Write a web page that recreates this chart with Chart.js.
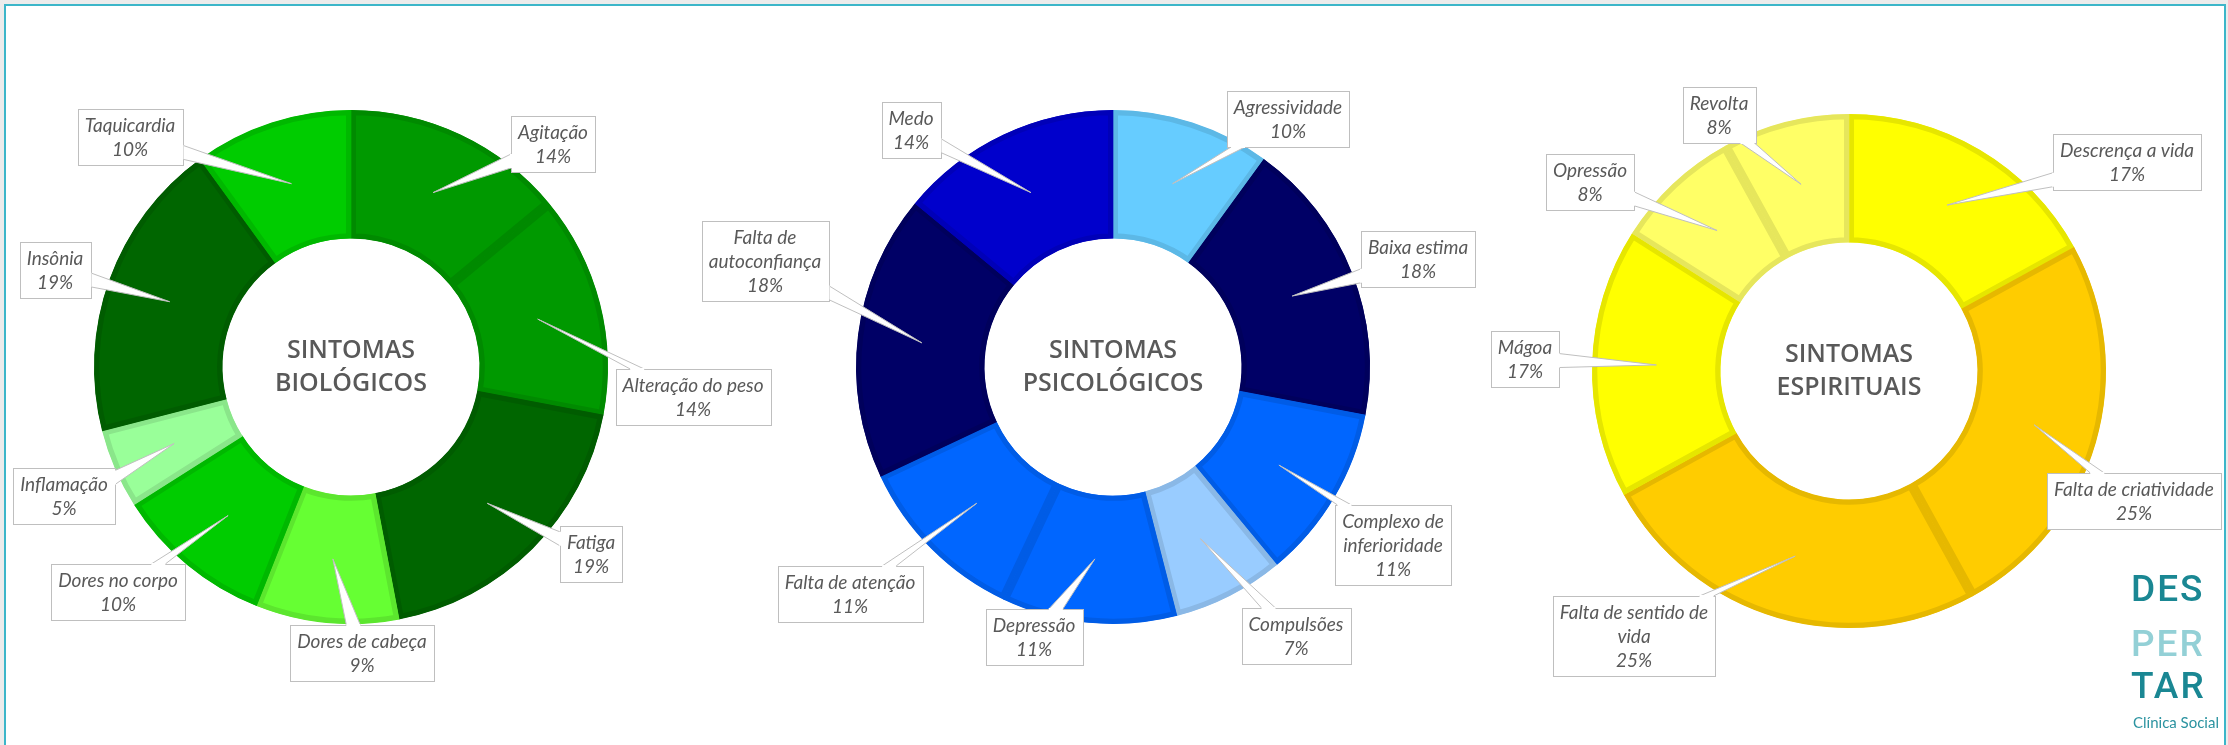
<!DOCTYPE html>
<html>
<head>
<meta charset="utf-8">
<script src="https://cdn.jsdelivr.net/npm/chart.js@4"></script>
<style>
  html, body { margin: 0; padding: 0; }
  body { width: 2228px; height: 745px; overflow: hidden; background: #ececec; position: relative; }
  #frame { position: absolute; left: 4px; top: 4px; width: 2218px; height: 760px; background: #fff;
           border-top: 2px solid #3cb6c9; border-left: 2px solid #3cb6c9; border-right: 2px solid #3cb6c9; }
  canvas { position: absolute; left: 0; top: 0; }
  .lg { position: absolute; left: 2131px; font-family: Roboto, sans-serif; font-weight: 500; font-size: 37px;
        line-height: 37px; letter-spacing: 2px; }
  .dark { color: #1a8793; }
  .light { color: #93d0d6; }
  .sub { position: absolute; left: 2133px; top: 713px; font-family: Lato, sans-serif; font-size: 15px;
         line-height: 18px; color: #2b93a0; }
</style>
</head>
<body>
<div id="frame"></div>
<canvas id="bio" width="2228" height="745"></canvas>
<canvas id="psi" width="2228" height="745"></canvas>
<canvas id="esp" width="2228" height="745"></canvas>
<div class="lg dark" style="top:570px">DES</div>
<div class="lg light" style="top:625px">PER</div>
<div class="lg dark" style="top:667px">TAR</div>
<div class="sub">Clínica Social</div>

<script>
const bioLabels = ["Agitação", "Alteração do peso", "Fatiga", "Dores de cabeça", "Dores no corpo", "Inflamação", "Insônia", "Taquicardia"];
const bioValues = [14, 14, 19, 9, 10, 5, 19, 10];

const psiLabels = ["Agressividade", "Baixa estima", "Complexo de inferioridade", "Compulsões", "Depressão", "Falta de atenção", "Falta de autoconfiança", "Medo"];
const psiValues = [10, 18, 11, 7, 11, 11, 18, 14];

const espLabels = ["Descrença a vida", "Falta de criatividade", "Falta de sentido de vida", "Mágoa", "Opressão", "Revolta"];
const espValues = [17, 25, 25, 17, 8, 8];

// cores das fatias
const bioColors = ["#009900", "#009900", "#006600", "#66FF33", "#00CC00", "#99FF99", "#006600", "#00CC00"];
const psiColors = ["#66CCFF", "#000066", "#0066FF", "#99CCFF", "#0066FF", "#0066FF", "#000066", "#0000CC"];
const espColors = ["#FFFF00", "#FFCC00", "#FFCC00", "#FFFF00", "#FFFF66", "#FFFF66"];

// posição das caixas de rótulo (relativa ao centro da rosca)
const bioBoxes = [
  { dx: 202, dy: -223 }, { dx: 342, dy: 30 }, { dx: 240, dy: 187 }, { dx: 11, dy: 286 },
  { dx: -233, dy: 225 }, { dx: -287, dy: 129 }, { dx: -296, dy: -97 }, { dx: -221, dy: -230 },
];
const psiBoxes = [
  { dx: 175, dy: -248 }, { dx: 305, dy: -108 }, { dx: 280, dy: 178, w: 110 }, { dx: 183, dy: 269 },
  { dx: -79, dy: 270 }, { dx: -263, dy: 227 }, { dx: -348, dy: -106, w: 125 }, { dx: -202, dy: -237 },
];
const espBoxes = [
  { dx: 278, dy: -209 }, { dx: 285, dy: 130 }, { dx: -215, dy: 265, w: 165 },
  { dx: -324, dy: -12 }, { dx: -259, dy: -189 }, { dx: -130, dy: -256 },
];

const W = 2228, H = 745;

const darker = (hex) => {
  const n = parseInt(hex.slice(1), 16);
  const f = (v) => Math.round(v * 0.9);
  return `rgb(${f(n >> 16)}, ${f((n >> 8) & 255)}, ${f(n & 255)})`;
};

const wrapText = (ctx, text, maxW) => {
  const words = text.split(" ");
  const lines = [];
  let cur = "";
  words.forEach((w) => {
    const test = cur ? cur + " " + w : w;
    if (cur && ctx.measureText(test).width > maxW) {
      lines.push(cur);
      cur = w;
    } else cur = test;
  });
  if (cur) lines.push(cur);
  return lines;
};

// rótulos estilo "balão" do Excel + título no centro
const calloutPlugin = {
  id: "callouts",
  afterDatasetsDraw(chart, args, opts) {
    const ctx = chart.ctx;
    const meta = chart.getDatasetMeta(0);
    const values = chart.data.datasets[0].data;
    const total = values.reduce((a, b) => a + b, 0);
    const cx = meta.data[0].x, cy = meta.data[0].y;

    ctx.save();
    ctx.fillStyle = "#595959";
    ctx.font = "600 25px 'Open Sans'";
    ctx.textAlign = "center";
    ctx.textBaseline = "middle";
    opts.title.forEach((t, i) => ctx.fillText(t, cx, cy + (i - (opts.title.length - 1) / 2) * 33));

    meta.data.forEach((arc, i) => {
      const pos = opts.boxes[i];
      const tip = arc.getCenterPoint();
      ctx.font = "italic 19px Lato";
      const lines = wrapText(ctx, chart.data.labels[i], pos.w || 1e9);
      lines.push(Math.round((values[i] / total) * 100) + "%");
      const tw = Math.max(...lines.map((l) => ctx.measureText(l).width));
      const bw = Math.round(tw + 14), bh = lines.length * 24 + 8;
      const mx = cx + pos.dx, my = cy + pos.dy;
      const bx = Math.round(mx - bw / 2) + 0.5, by = Math.round(my - bh / 2) + 0.5;

      // ponto de saída na borda da caixa
      const ux = tip.x - mx, uy = tip.y - my;
      const tX = ux !== 0 ? (bw / 2) / Math.abs(ux) : Infinity;
      const tY = uy !== 0 ? (bh / 2) / Math.abs(uy) : Infinity;
      const t = Math.min(tX, tY);
      const ex = mx + ux * t, ey = my + uy * t;
      let b1, b2;
      if (tX < tY) {
        const y0 = Math.max(by + 2, Math.min(by + bh - 16, ey - 7));
        b1 = [ex, y0]; b2 = [ex, y0 + 14];
      } else {
        const x0 = Math.max(bx + 2, Math.min(bx + bw - 16, ex - 7));
        b1 = [x0, ey]; b2 = [x0 + 14, ey];
      }

      ctx.lineWidth = 1;
      ctx.strokeStyle = "#bfbfbf";
      ctx.fillStyle = "#ffffff";
      ctx.beginPath();
      ctx.moveTo(b1[0], b1[1]);
      ctx.lineTo(tip.x, tip.y);
      ctx.lineTo(b2[0], b2[1]);
      ctx.closePath();
      ctx.fill();
      ctx.beginPath();
      ctx.moveTo(b1[0], b1[1]);
      ctx.lineTo(tip.x, tip.y);
      ctx.lineTo(b2[0], b2[1]);
      ctx.stroke();

      ctx.fillRect(bx, by, bw, bh);
      ctx.strokeRect(bx, by, bw, bh);
      // abre a borda onde entra o balão
      ctx.strokeStyle = "#ffffff";
      ctx.lineWidth = 2;
      ctx.beginPath();
      ctx.moveTo(b1[0], b1[1]);
      ctx.lineTo(b2[0], b2[1]);
      ctx.stroke();

      ctx.fillStyle = "#595959";
      lines.forEach((l, k) => ctx.fillText(l, mx, my + (k - (lines.length - 1) / 2) * 24 + 1));
    });
    ctx.restore();
  },
};

const makeDonut = (id, labels, values, colors, boxes, title, cx, cy) => {
  return new Chart(document.getElementById(id), {
    type: "doughnut",
    data: {
      labels: labels,
      datasets: [{
        data: values,
        backgroundColor: colors,
        borderColor: colors.map(darker),
        borderWidth: 5,
        borderAlign: "inner",
        hoverOffset: 0,
      }],
    },
    options: {
      responsive: false,
      animation: false,
      events: [],
      radius: 257,
      cutout: "50%",
      layout: { padding: { left: cx - 300, right: W - cx - 300, top: cy - 300, bottom: H - cy - 300 } },
      plugins: {
        legend: { display: false },
        tooltip: { enabled: false },
        callouts: { title: title, boxes: boxes },
      },
    },
    plugins: [calloutPlugin],
  });
};

makeDonut("bio", bioLabels, bioValues, bioColors, bioBoxes, ["SINTOMAS", "BIOLÓGICOS"], 351, 367);
makeDonut("psi", psiLabels, psiValues, psiColors, psiBoxes, ["SINTOMAS", "PSICOLÓGICOS"], 1113, 367);
makeDonut("esp", espLabels, espValues, espColors, espBoxes, ["SINTOMAS", "ESPIRITUAIS"], 1849, 371);
</script>
</body>
</html>
